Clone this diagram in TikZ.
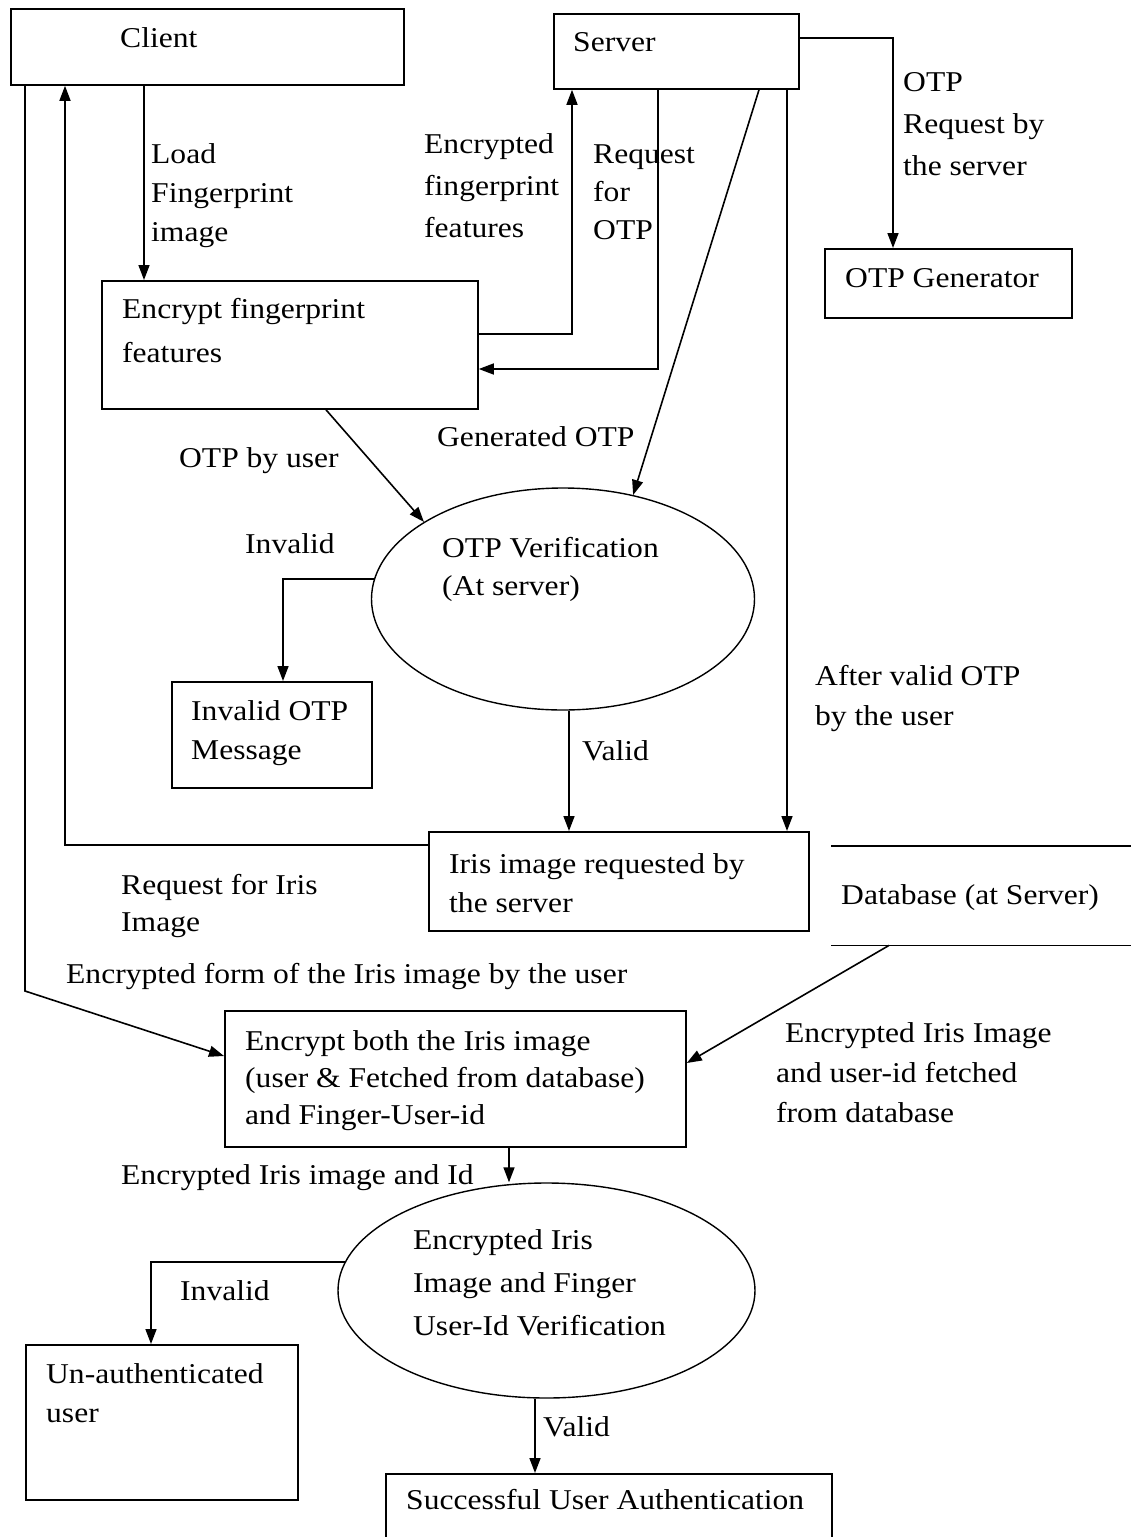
\documentclass[tikz,border=0pt]{standalone}
\usepackage{fontspec}
\setmainfont{Liberation Serif}[FakeStretch=1.1]
\usetikzlibrary{shapes.geometric,arrows.meta,calc}

\tikzset{
  box/.style={draw, line width=1.8pt, rectangle, inner sep=0pt, anchor=north west},
  oval/.style={draw, line width=1.4pt, ellipse, inner sep=0pt},
  txt/.style={anchor=north west, inner sep=0pt, align=left,
              font=\fontsize{28.7}{40}\selectfont},
  arr/.style={line width=1.6pt, -{Triangle[length=15pt,width=11pt]}},
  plain/.style={line width=1.6pt}
}

\begin{document}
\begin{tikzpicture}[x=1pt,y=-1pt]
\useasboundingbox (0,0) rectangle (1131,1537);

% boxes and verification ovals
\node[box, minimum width=393pt, minimum height=76pt]  (client)  at (10,8)    {};
\node[box, minimum width=245pt, minimum height=75pt]  (server)  at (553,13)  {};
\node[box, minimum width=247pt, minimum height=69pt]  (otpgen)  at (824,248) {};
\node[box, minimum width=376pt, minimum height=128pt] (encfp)   at (101,280) {};
\node[oval, minimum width=383pt, minimum height=222pt] (ver)    at (563,599) {};
\node[box, minimum width=200pt, minimum height=106pt] (invmsg)  at (171,681) {};
\node[box, minimum width=380pt, minimum height=99pt]  (iris)    at (428,831) {};
\node[anchor=north west, inner sep=0pt, minimum width=310pt, minimum height=99pt] (db) at (831,846) {};
\node[box, minimum width=461pt, minimum height=136pt] (encboth) at (224,1010) {};
\node[oval, minimum width=417pt, minimum height=215pt] (ver2)   at (546.5,1290.5) {};
\node[box, minimum width=272pt, minimum height=155pt] (unauth)  at (25,1344) {};
\node[box, minimum width=446pt, minimum height=90pt]  (success) at (385,1473) {};

% database store: two horizontal rules
\draw[plain] (db.north west) -- (db.north east);
\draw[plain] (db.south west) -- (db.south east);

% texts inside shapes
\node[txt] (tClient) at (120,27)  {Client};
\node[txt] (tServer) at (573,32)  {Server};
\node[txt] (tGen)    at (845,268) {OTP Generator};
\node[txt, font=\fontsize{28.7}{44}\selectfont] (tEncfp) at (122,298) {Encrypt fingerprint\\features};
\node[txt, font=\fontsize{28.7}{38}\selectfont] (tVer) at (442,537) {OTP Verification\\(At server)};
\node[txt, font=\fontsize{28.7}{39}\selectfont] (tInv) at (191,700) {Invalid OTP\\Message};
\node[txt, font=\fontsize{28.7}{39}\selectfont] (tIris) at (449,853) {Iris image requested by\\the server};
\node[txt] (tDb) at (841,884) {Database (at Server)};
\node[txt, font=\fontsize{28.7}{37}\selectfont] (tBoth) at (245,1030) {Encrypt both the Iris image\\(user \& Fetched from database)\\and Finger-User-id};
\node[txt, font=\fontsize{28.7}{43}\selectfont] (tVer2) at (413,1229) {Encrypted Iris\\Image and Finger\\User-Id Verification};
\node[txt, font=\fontsize{28.7}{39}\selectfont] (tUn) at (46,1363) {Un-authenticated\\user};
\node[txt] (tSucc) at (406,1489) {Successful User Authentication};

% connector labels
\node[txt, font=\fontsize{28.7}{42}\selectfont] (lOtpReq) at (903,72) {OTP\\Request by\\the server};
\node[txt, font=\fontsize{28.7}{39}\selectfont] (lLoad) at (151,143) {Load\\Fingerprint\\image};
\node[txt, font=\fontsize{28.7}{42}\selectfont] (lEncF) at (424,133) {Encrypted\\fingerprint\\features};
\node[txt, font=\fontsize{28.7}{38}\selectfont] (lReq) at (593,145) {Request\\for\\OTP};
\node[txt] (lGen)   at (437,426) {Generated OTP};
\node[txt] (lByUsr) at (179,447) {OTP by user};
\node[txt] (lInv1)  at (245,533) {Invalid};
\node[txt, font=\fontsize{28.7}{40}\selectfont] (lAfter) at (815,665) {After valid OTP\\by the user};
\node[txt] (lVal1)  at (582,740) {Valid};
\node[txt, font=\fontsize{28.7}{37}\selectfont] (lReqIris) at (121,874) {Request for Iris\\Image};
\node[txt] (lEncForm) at (66,963) {Encrypted form of the Iris image by the user};
\node[txt, font=\fontsize{28.7}{40}\selectfont] (lFetch) at (776,1022) {\hspace*{9pt}Encrypted Iris Image\\and user-id fetched\\from database};
\node[txt] (lEncId) at (121,1164) {Encrypted Iris image and Id};
\node[txt] (lInv2)  at (180,1280) {Invalid};
\node[txt] (lVal2)  at (543,1416) {Valid};

% bend points and column positions for connectors
\coordinate (cA) at (25,991);
\coordinate (cB) at (65,845);
\coordinate (cC) at (144,0);
\coordinate (cD) at (572,334);
\coordinate (cE) at (658,369);
\coordinate (cF) at (787,0);
\coordinate (cG) at (893,38);
\coordinate (cH) at (283,0);
\coordinate (cI) at (569,0);
\coordinate (cJ) at (509,0);
\coordinate (cK) at (151,0);
\coordinate (cL) at (535,0);

% connectors
\draw[arr] (client.south -| cA) -- (cA) -- ($(encboth.north west)+(0,46)$);
\draw[arr] ($(iris.north west)+(0,14)$) -- (cB) -- (client.south -| cB);
\draw[arr] (client.south -| cC) -- (encfp.north -| cC);
\draw[arr] (encfp.east |- cD) -- (cD) -- (server.south -| cD);
\draw[arr] (server.south -| cE) -- (cE) -- (encfp.east |- cE);
\draw[arr] ($(server.south west)+(206,0)$) -- (ver.56.6);
\draw[arr] (server.south -| cF) -- (iris.north -| cF);
\draw[arr] (server.east |- cG) -- (cG) -- (otpgen.north -| cG);
\draw[arr] ($(encfp.south west)+(225,0)$) -- (ver.151);
\draw[arr] (ver.174) -| (invmsg.north -| cH);
\draw[arr] (ver.south -| cI) -- (iris.north -| cI);
\draw[arr] ($(db.south west)+(58,0)$) -- ($(encboth.north east)+(0,53)$);
\draw[arr] (encboth.south -| cJ) -- (ver2.north -| cJ);
\draw[arr] (ver2.172) -| (unauth.north -| cK);
\draw[arr] (ver2.south -| cL) -- (success.north -| cL);
\end{tikzpicture}
\end{document}
